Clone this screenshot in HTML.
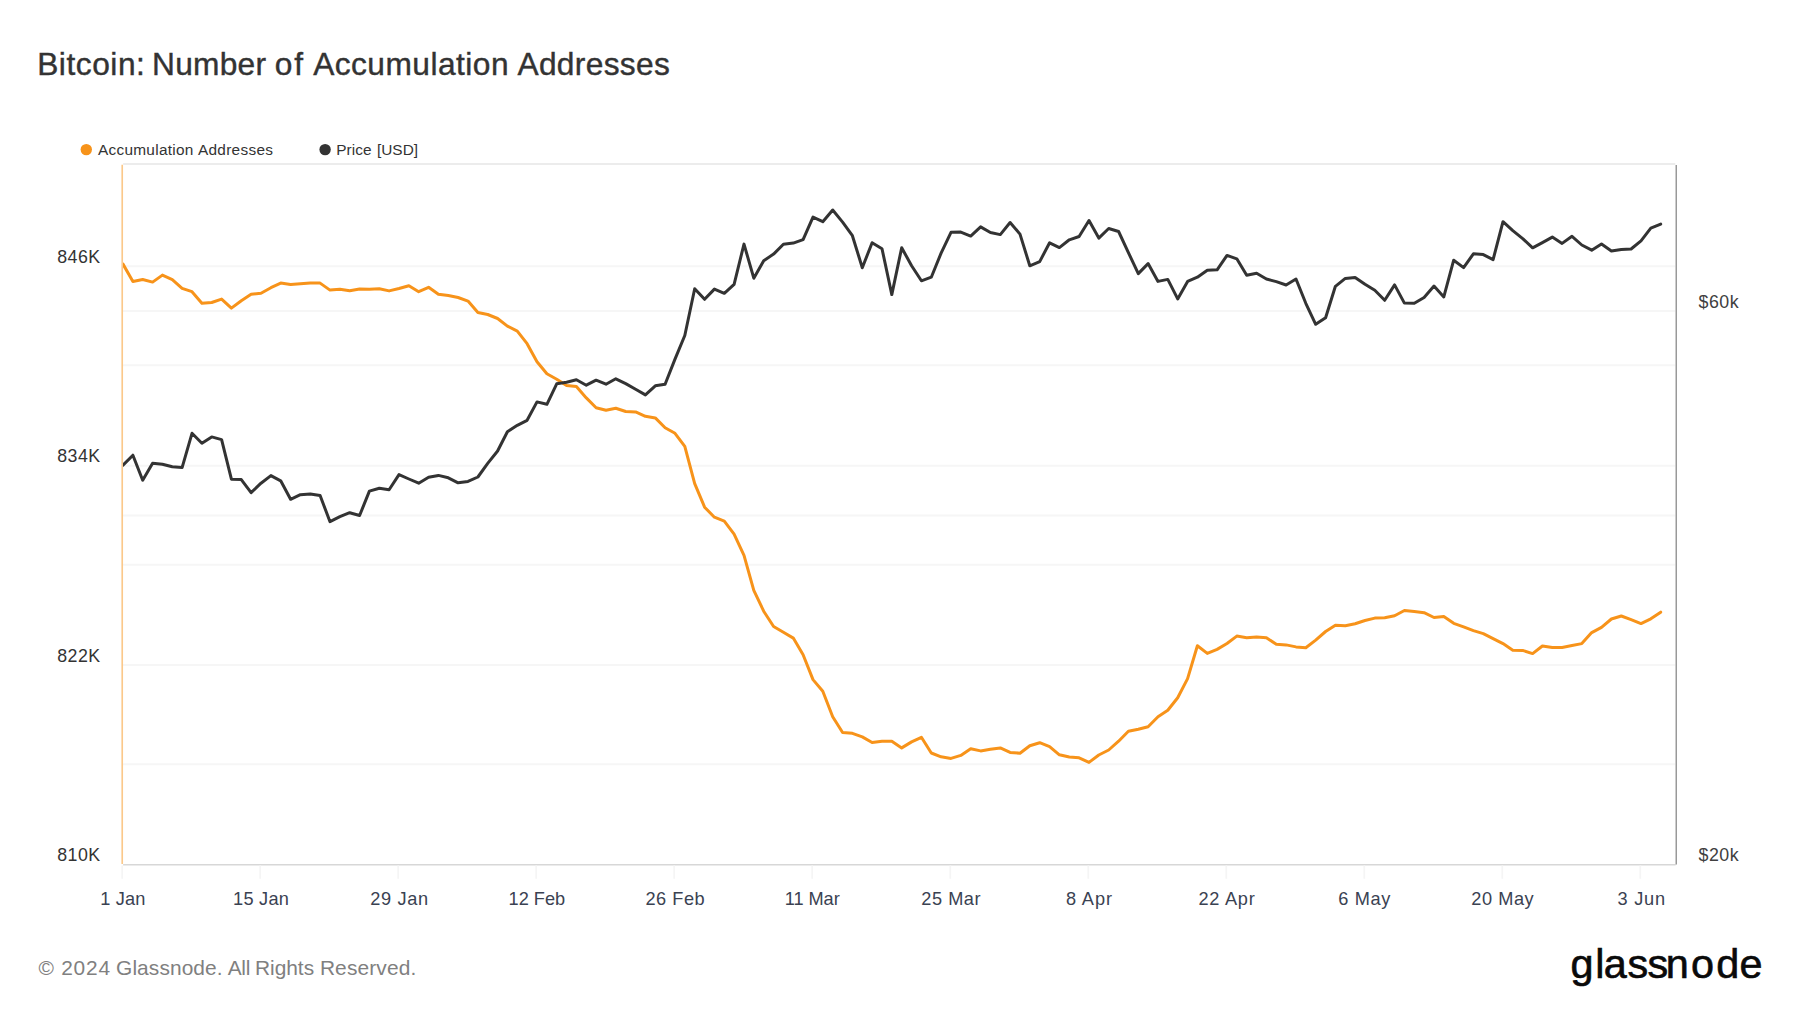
<!DOCTYPE html>
<html lang="en"><head><meta charset="utf-8"><title>Bitcoin: Number of Accumulation Addresses</title>
<style>html,body{margin:0;padding:0;background:#fff}body{width:1800px;height:1013px;overflow:hidden}svg{display:block}</style></head>
<body>
<svg width="1800" height="1013" viewBox="0 0 1800 1013">
<defs><clipPath id="plot"><rect x="123.0" y="164" width="1553" height="700"/></clipPath></defs>
<rect width="1800" height="1013" fill="#fff"/>
<g stroke="#f6f6f6" stroke-width="2" fill="none">
<path d="M123.1 266.2 H1675.2"/>
<path d="M123.1 311.0 H1675.2"/>
<path d="M123.1 365.3 H1675.2"/>
<path d="M123.1 465.7 H1675.2"/>
<path d="M123.1 515.5 H1675.2"/>
<path d="M123.1 564.8 H1675.2"/>
<path d="M123.1 665.0 H1675.2"/>
<path d="M123.1 764.2 H1675.2"/>
</g>
<path d="M123.1 164.05 H1675.3" stroke="#e6e6e6" stroke-width="1.5" fill="none"/>
<path d="M123.1 864.75 H1675.6" stroke="#d7d7d7" stroke-width="1.5" fill="none"/>
<g stroke="#f5f5f5" stroke-width="1.7" fill="none">
<path d="M122.2 865.5 V878.8"/>
<path d="M260.2 865.5 V878.8"/>
<path d="M398.2 865.5 V878.8"/>
<path d="M536.2 865.5 V878.8"/>
<path d="M674.2 865.5 V878.8"/>
<path d="M812.2 865.5 V878.8"/>
<path d="M950.3 865.5 V878.8"/>
<path d="M1088.3 865.5 V878.8"/>
<path d="M1226.3 865.5 V878.8"/>
<path d="M1364.3 865.5 V878.8"/>
<path d="M1502.3 865.5 V878.8"/>
<path d="M1640.3 865.5 V878.8"/>
</g>
<path d="M122.22 164.8 V864" stroke="#fbc88a" stroke-width="1.65" fill="none"/>
<path d="M1676.25 164.9 V864.6" stroke="#999" stroke-width="1.5" fill="none"/>
<g clip-path="url(#plot)" fill="none" stroke-width="3" stroke-linejoin="round" stroke-linecap="round">
<path d="M123.0 264.1 L132.9 281.5 L142.7 279.5 L152.6 282.1 L162.4 275.1 L172.3 279.7 L182.1 288.3 L192.0 291.7 L201.9 303.3 L211.7 302.5 L221.6 299.1 L231.4 308.1 L241.3 300.7 L251.1 294.3 L261.0 293.3 L270.9 287.7 L280.7 283.1 L290.6 284.5 L300.4 283.7 L310.3 282.9 L320.1 283.1 L330.0 290.1 L339.9 289.3 L349.7 290.7 L359.6 289.1 L369.4 289.3 L379.3 288.7 L389.1 290.9 L399.0 288.5 L408.9 285.7 L418.7 291.7 L428.6 287.3 L438.4 294.3 L448.3 295.5 L458.1 297.5 L468.0 301.1 L477.9 312.5 L487.7 314.5 L497.6 318.5 L507.4 326.1 L517.3 331.1 L527.1 343.7 L537.0 361.8 L546.9 373.8 L556.7 379.2 L566.6 385.6 L576.4 386.6 L586.3 397.9 L596.1 407.7 L606.0 410.3 L615.8 408.3 L625.7 411.5 L635.6 411.9 L645.4 416.3 L655.3 417.9 L665.1 427.7 L675.0 433.3 L684.8 446.4 L694.7 483.7 L704.6 507.2 L714.4 517.2 L724.3 521.2 L734.1 534.2 L744.0 555.3 L753.8 590.4 L763.7 611.2 L773.6 626.5 L783.4 632.3 L793.3 638.1 L803.1 654.7 L813.0 679.6 L822.8 691.2 L832.7 716.7 L842.6 732.5 L852.4 733.3 L862.3 736.9 L872.1 742.5 L882.0 741.3 L891.8 741.3 L901.7 747.9 L911.6 741.9 L921.4 737.3 L931.3 753.0 L941.1 756.8 L951.0 758.4 L960.8 755.4 L970.7 748.7 L980.6 750.9 L990.4 749.3 L1000.3 747.9 L1010.1 752.4 L1020.0 753.2 L1029.8 745.7 L1039.7 742.7 L1049.6 746.7 L1059.4 754.8 L1069.3 757.0 L1079.1 757.8 L1089.0 762.4 L1098.8 755.0 L1108.7 750.0 L1118.6 741.2 L1128.4 731.3 L1138.3 729.3 L1148.1 726.7 L1158.0 716.7 L1167.8 710.3 L1177.7 697.7 L1187.6 678.6 L1197.4 645.7 L1207.3 653.4 L1217.1 649.4 L1227.0 643.5 L1236.8 636.1 L1246.7 637.7 L1256.6 636.9 L1266.4 637.7 L1276.3 644.3 L1286.1 644.9 L1296.0 646.9 L1305.8 647.7 L1315.7 640.1 L1325.6 631.5 L1335.4 625.3 L1345.3 625.7 L1355.1 623.7 L1365.0 620.5 L1374.8 618.1 L1384.7 617.7 L1394.6 615.7 L1404.4 610.5 L1414.3 611.5 L1424.1 612.7 L1434.0 617.5 L1443.8 616.6 L1453.7 623.3 L1463.6 626.8 L1473.4 630.6 L1483.3 633.6 L1493.1 638.6 L1503.0 643.6 L1512.8 650.2 L1522.7 650.4 L1532.6 653.6 L1542.4 646.0 L1552.3 647.6 L1562.1 647.4 L1572.0 645.6 L1581.8 643.6 L1591.7 632.6 L1601.5 627.4 L1611.4 619.0 L1621.3 616.0 L1631.1 619.6 L1641.0 623.6 L1650.8 618.8 L1660.7 612.2" stroke="#f7931a"/>
<path d="M123.0 465.2 L132.9 455.2 L142.7 480.2 L152.6 463.2 L162.4 464.2 L172.3 466.8 L182.1 467.6 L192.0 433.3 L201.9 443.2 L211.7 436.9 L221.6 439.6 L231.4 479.2 L241.3 479.6 L251.1 492.7 L261.0 483.2 L270.9 475.6 L280.7 480.8 L290.6 499.3 L300.4 494.7 L310.3 493.9 L320.1 495.5 L330.0 521.7 L339.9 516.7 L349.7 512.7 L359.6 515.5 L369.4 491.1 L379.3 488.3 L389.1 489.7 L399.0 474.6 L408.9 479.0 L418.7 483.2 L428.6 477.2 L438.4 475.4 L448.3 477.8 L458.1 482.8 L468.0 481.4 L477.9 477.0 L487.7 463.4 L497.6 451.0 L507.4 431.7 L517.3 425.3 L527.1 420.3 L537.0 401.9 L546.9 404.3 L556.7 383.8 L566.6 382.2 L576.4 379.8 L586.3 385.2 L596.1 380.2 L606.0 384.2 L615.8 378.8 L625.7 383.6 L635.6 389.2 L645.4 394.9 L655.3 385.8 L665.1 384.3 L675.0 359.1 L684.8 335.5 L694.7 288.7 L704.6 299.3 L714.4 289.1 L724.3 293.3 L734.1 284.3 L744.0 244.1 L753.8 278.2 L763.7 260.8 L773.6 254.1 L783.4 244.3 L793.3 243.1 L803.1 239.7 L813.0 217.1 L822.8 221.7 L832.7 210.0 L842.6 222.1 L852.4 235.7 L862.3 267.8 L872.1 242.7 L882.0 248.7 L891.8 294.6 L901.7 247.7 L911.6 265.8 L921.4 280.8 L931.3 277.2 L941.1 253.1 L951.0 232.3 L960.8 232.1 L970.7 236.1 L980.6 226.9 L990.4 232.5 L1000.3 234.6 L1010.1 222.5 L1020.0 234.1 L1029.8 265.8 L1039.7 261.6 L1049.6 242.8 L1059.4 247.6 L1069.3 239.8 L1079.1 236.5 L1089.0 220.5 L1098.8 238.1 L1108.7 228.5 L1118.6 231.5 L1128.4 252.6 L1138.3 273.6 L1148.1 263.6 L1158.0 281.4 L1167.8 279.4 L1177.7 298.9 L1187.6 281.4 L1197.4 277.2 L1207.3 270.2 L1217.1 269.8 L1227.0 255.4 L1236.8 258.8 L1246.7 275.2 L1256.6 273.2 L1266.4 279.0 L1276.3 281.6 L1286.1 285.0 L1296.0 279.0 L1305.8 303.3 L1315.7 324.3 L1325.6 317.7 L1335.4 286.3 L1345.3 278.4 L1355.1 277.4 L1365.0 284.3 L1374.8 290.3 L1384.7 300.3 L1394.6 284.9 L1404.4 303.1 L1414.3 303.3 L1424.1 297.5 L1434.0 286.1 L1443.8 296.9 L1453.7 260.2 L1463.6 267.6 L1473.4 253.8 L1483.3 254.6 L1493.1 259.6 L1503.0 221.7 L1512.8 230.7 L1522.7 238.6 L1532.6 247.8 L1542.4 242.6 L1552.3 237.1 L1562.1 243.4 L1572.0 236.3 L1581.8 245.0 L1591.7 250.2 L1601.5 244.0 L1611.4 251.0 L1621.3 249.4 L1631.1 249.0 L1641.0 240.8 L1650.8 228.1 L1660.7 224.1" stroke="#333333"/>
</g>
<g font-family="'Liberation Sans', sans-serif">
<text y="75.2" font-size="31.7" fill="#333" stroke="#333" stroke-width="0.4"><tspan x="37.20" letter-spacing="0.538">Bitcoin: </tspan><tspan x="152.10" letter-spacing="0.230">Number </tspan><tspan x="274.76" letter-spacing="1.866">of </tspan><tspan x="313.14" letter-spacing="0.470">Accumulation </tspan><tspan x="517.44" letter-spacing="0.336">Addresses</tspan></text>
<circle cx="86.3" cy="149.6" r="5.7" fill="#f7931a"/>
<text y="155" font-size="15.4" fill="#333" ><tspan x="97.91" letter-spacing="0.283">Accumulation </tspan><tspan x="197.91" letter-spacing="0.295">Addresses</tspan></text>
<circle cx="325.1" cy="149.6" r="5.7" fill="#333"/>
<text y="155" font-size="15.4" fill="#333" ><tspan x="336.14" letter-spacing="0.123">Price </tspan><tspan x="376.90" letter-spacing="0.044">[USD]</tspan></text>
<text y="263.1" font-size="17.8" fill="#333" ><tspan x="57.31" letter-spacing="0.439">846K</tspan></text>
<text y="462.2" font-size="17.8" fill="#333" ><tspan x="57.31" letter-spacing="0.439">834K</tspan></text>
<text y="662.0" font-size="17.8" fill="#333" ><tspan x="57.31" letter-spacing="0.439">822K</tspan></text>
<text y="861.1" font-size="17.8" fill="#333" ><tspan x="57.31" letter-spacing="0.439">810K</tspan></text>
<text y="308.2" font-size="17.8" fill="#404040" ><tspan x="1698.46" letter-spacing="0.537">$60k</tspan></text>
<text y="861.1" font-size="17.8" fill="#404040" ><tspan x="1698.46" letter-spacing="0.537">$20k</tspan></text>
<text y="905" font-size="18.2" fill="#3a4252" ><tspan x="100.31" letter-spacing="0.143">1 Jan</tspan></text>
<text y="905" font-size="18.2" fill="#3a4252" ><tspan x="233.01" letter-spacing="0.270">15 Jan</tspan></text>
<text y="905" font-size="18.2" fill="#3a4252" ><tspan x="370.19" letter-spacing="0.656">29 Jan</tspan></text>
<text y="905" font-size="18.2" fill="#3a4252" ><tspan x="508.61" letter-spacing="-0.012">12 Feb</tspan></text>
<text y="905" font-size="18.2" fill="#3a4252" ><tspan x="645.49" letter-spacing="0.514">26 Feb</tspan></text>
<text y="905" font-size="18.2" fill="#3a4252" ><tspan x="784.71" letter-spacing="-0.050">11 Mar</tspan></text>
<text y="905" font-size="18.2" fill="#3a4252" ><tspan x="921.29" letter-spacing="0.539">25 Mar</tspan></text>
<text y="905" font-size="18.2" fill="#3a4252" ><tspan x="1065.89" letter-spacing="0.904">8 Apr</tspan></text>
<text y="905" font-size="18.2" fill="#3a4252" ><tspan x="1198.49" letter-spacing="0.733">22 Apr</tspan></text>
<text y="905" font-size="18.2" fill="#3a4252" ><tspan x="1338.27" letter-spacing="0.658">6 May</tspan></text>
<text y="905" font-size="18.2" fill="#3a4252" ><tspan x="1471.29" letter-spacing="0.553">20 May</tspan></text>
<text y="905" font-size="18.2" fill="#3a4252" ><tspan x="1617.58" letter-spacing="0.751">3 Jun</tspan></text>
<text y="975" font-size="20.9" fill="#808080" ><tspan x="38.57" letter-spacing="0.000">© </tspan><tspan x="61.14" letter-spacing="0.857">2024 </tspan><tspan x="116.04" letter-spacing="0.099">Glassnode. </tspan><tspan x="227.71" letter-spacing="-0.307">All </tspan><tspan x="254.99" letter-spacing="-0.023">Rights </tspan><tspan x="319.89" letter-spacing="0.148">Reserved.</tspan></text>
<text transform="scale(1.04,1)" x="1510.15 1533.79 1542.13 1564.98 1584.12 1601.75 1626.05 1650.29 1672.63" y="978.2" font-size="39.8" fill="#0a0a0a" stroke="#0a0a0a" stroke-width="0.6">glassnode</text>
</g>
</svg>
</body></html>
